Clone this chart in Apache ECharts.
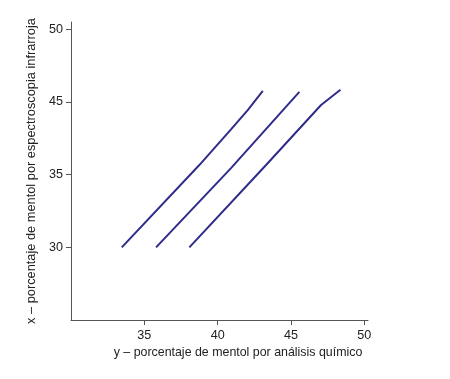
<!DOCTYPE html>
<html>
<head>
<meta charset="utf-8">
<script src="https://cdn.jsdelivr.net/npm/echarts@6/dist/echarts.min.js"></script>
<style>html,body{margin:0;padding:0;background:#fff}#c{width:450px;height:379px}</style>
</head>
<body>
<div id="c"></div>
<script>
// x-axis ticks (values) and y-axis tick positions with the labels printed at them
var xTicks = [35, 40, 45, 50];
var yTickPositions = [30, 35, 40, 45];
var yTickLabels = ['30', '35', '45', '50'];

// three calibration lines, [x, y] in axis units
var line1 = [[33.46, 30.0], [38.75, 35.66], [40.91, 38.11], [42.05, 39.44], [43.08, 40.76]];
var line2 = [[35.8, 30.0], [40.91, 35.45], [45.57, 40.69]];
var line3 = [[38.07, 30.0], [43.3, 35.66], [47.05, 39.79], [48.37, 40.84]];

var chart = echarts.init(document.getElementById('c'), null, {renderer: 'canvas'});
var font = 'Liberation Sans, Arial, sans-serif';
var axisColor = '#555';
function mkSeries(d) {
  return {type: 'line', data: d, symbol: 'none', smooth: false,
    lineStyle: {color: '#2f2c8a', width: 2}, silent: true};
}
chart.setOption({
  animation: false,
  backgroundColor: '#fff',
  grid: {left: 71, right: 82, top: 22, bottom: 59, containLabel: false},
  xAxis: {
    type: 'value', min: 30, max: 50.25, interval: 5,
    name: 'y – porcentaje de mentol por análisis químico',
    nameLocation: 'middle', nameGap: 27,
    nameTextStyle: {fontFamily: font, fontSize: 12.4, color: '#222', padding: [0, 0, 0, 37]},
    axisLine: {lineStyle: {color: axisColor, width: 1}},
    axisTick: {show: true, length: 5, customValues: xTicks, lineStyle: {color: axisColor}},
    axisLabel: {customValues: xTicks, fontFamily: font, fontSize: 12.6, color: '#222', margin: 9},
    splitLine: {show: false}
  },
  yAxis: {
    type: 'value', min: 25, max: 45.5, interval: 5,
    name: 'x – porcentaje de mentol por espectroscopia infrarroja',
    nameLocation: 'middle', nameGap: 31, nameRotate: 90,
    nameTextStyle: {fontFamily: font, fontSize: 12.8, color: '#222'},
    axisLine: {show: true, lineStyle: {color: axisColor, width: 1}},
    axisTick: {show: true, length: 5, customValues: yTickPositions, lineStyle: {color: axisColor}},
    axisLabel: {
      customValues: yTickPositions, fontFamily: font, fontSize: 12.6, color: '#222', margin: 8,
      formatter: function (v) {
        var i = yTickPositions.indexOf(v);
        return i >= 0 ? yTickLabels[i] : '';
      }
    },
    splitLine: {show: false}
  },
  series: [mkSeries(line1), mkSeries(line2), mkSeries(line3)]
});
</script>
</body>
</html>
